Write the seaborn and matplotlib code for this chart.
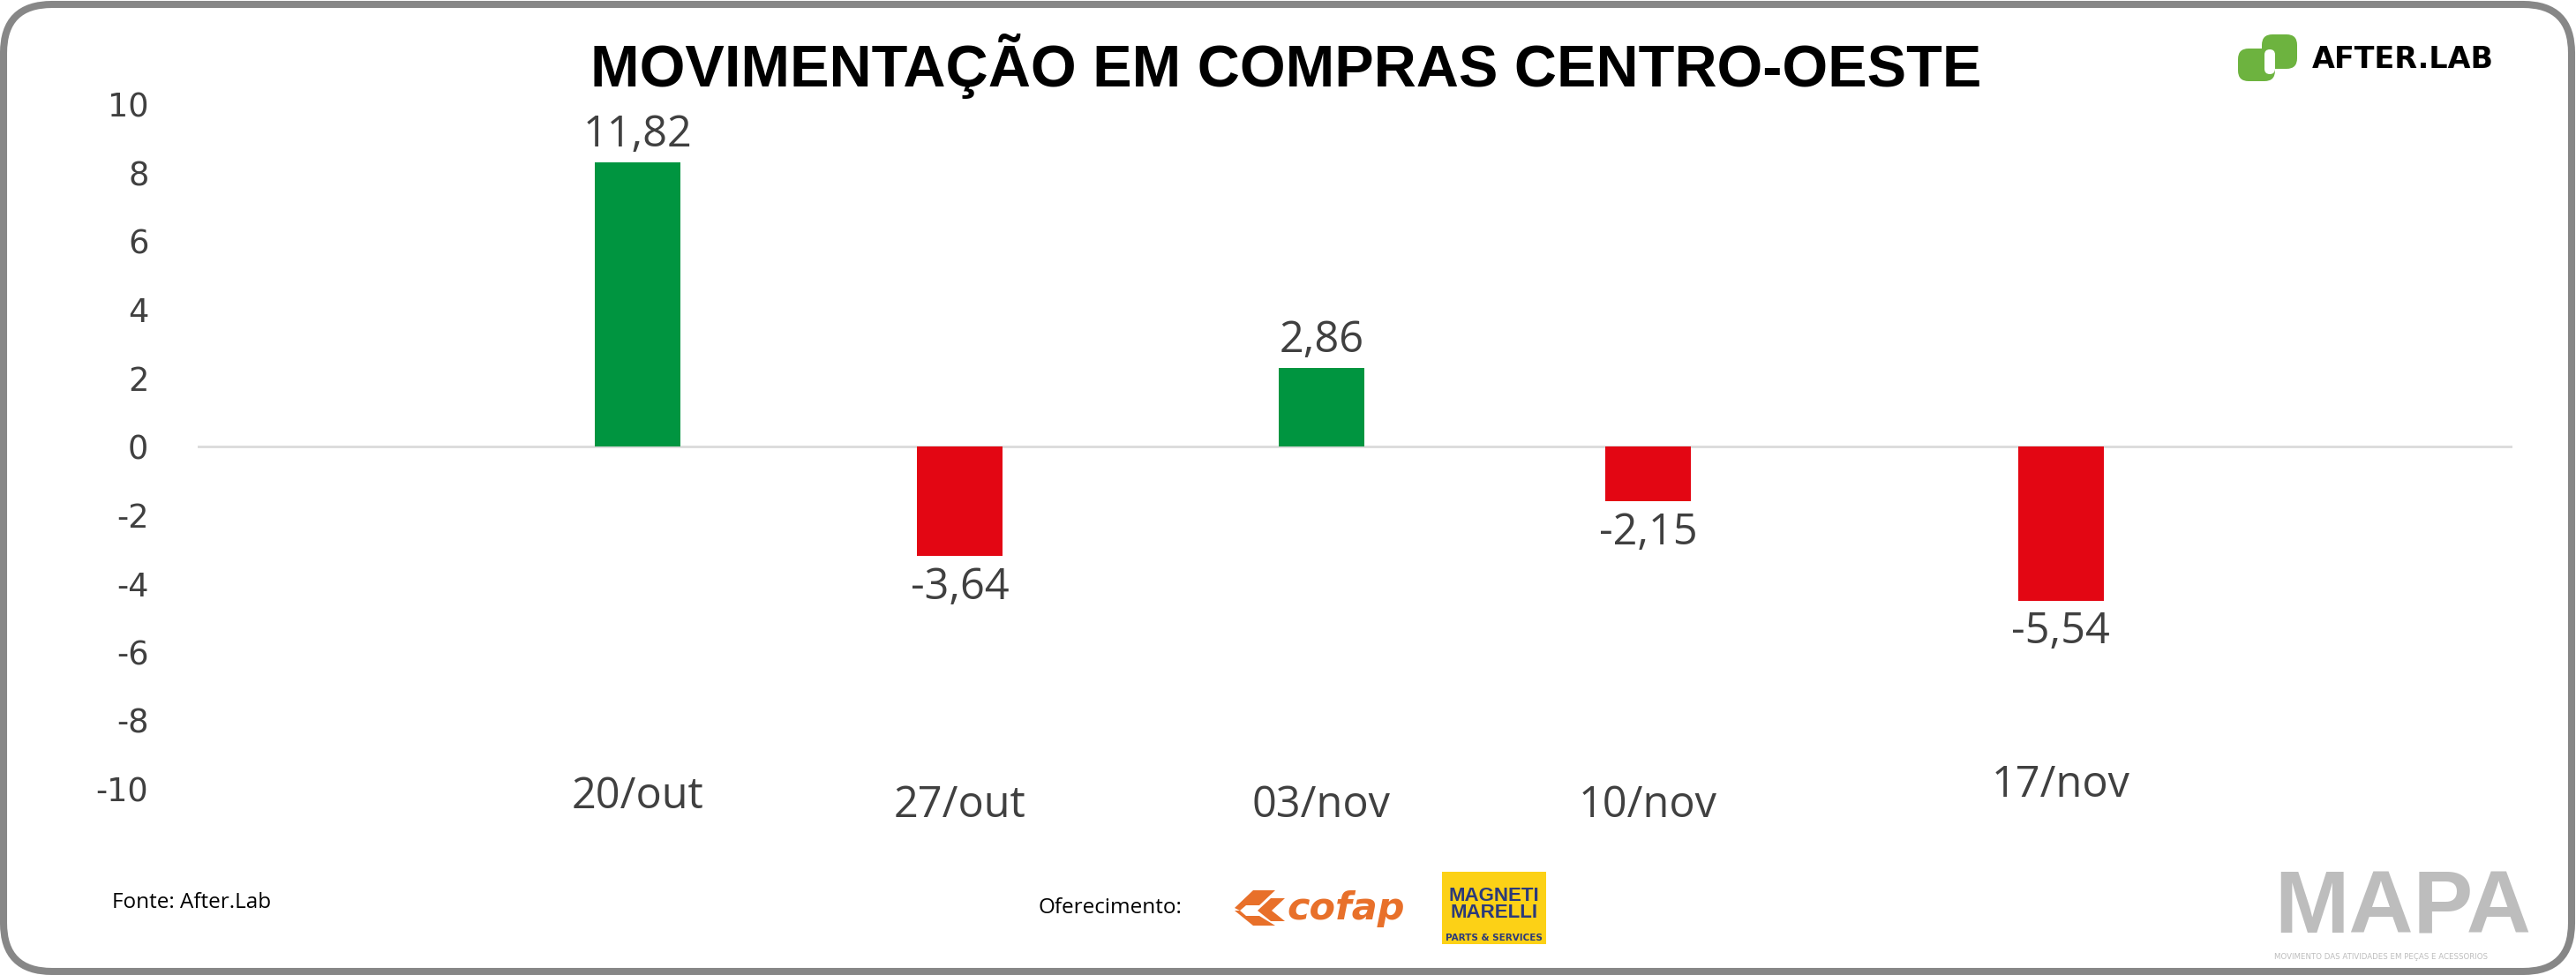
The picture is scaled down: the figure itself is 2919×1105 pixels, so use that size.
import numpy as np
import pandas as pd
import matplotlib
matplotlib.use("Agg")
import matplotlib.pyplot as plt
import seaborn as sns
from matplotlib import font_manager
from matplotlib.patches import FancyBboxPatch, Rectangle, Polygon
from matplotlib.transforms import IdentityTransform, ScaledTranslation

# ---------------- data ----------------
weeks = ["20/out", "27/out", "03/nov", "10/nov", "17/nov"]
bar_heights = [8.3, -3.2, 2.3, -1.6, -4.5]          # bar lengths as drawn in the picture
value_labels = [11.82, -3.64, 2.86, -2.15, -5.54]   # printed values
y_ticks = [10, 8, 6, 4, 2, 0, -2, -4, -6, -8, -10]
title = "MOVIMENTAÇÃO EM COMPRAS CENTRO-OESTE"

# ---------------- layout ----------------
bar_pos = [0.0, 1.0, 2.123, 3.137, 4.419]   # uneven spacing as in the reference
label_lift_px = [10, 0, 0, 0, 23]          # vertical lift of some x labels

GREEN = "#009540"
RED = "#E30613"
TXT = "#404040"
W, H, DPI = 2919, 1105, 100

names = {f.name for f in font_manager.fontManager.ttflist}
NARROW = "Liberation Sans Narrow" if "Liberation Sans Narrow" in names else "Liberation Sans"
BODY = "Open Sans" if "Open Sans" in names else "DejaVu Sans"

sns.set_style("white")
plt.rcParams["font.family"] = [BODY, "DejaVu Sans"]

fig = plt.figure(figsize=(W / DPI, H / DPI), dpi=DPI)
fig.patch.set_facecolor("white")
ax = fig.add_axes([224 / W, 0.19095, 2623 / W, 0.70929])

df = pd.DataFrame({
    "pos": bar_pos,
    "value": bar_heights,
    "dir": ["up" if v >= 0 else "down" for v in bar_heights],
})
sns.barplot(data=df, x="pos", y="value", hue="dir",
            palette={"up": GREEN, "down": RED}, native_scale=True,
            width=0.266, dodge=False, legend=False, errorbar=None,
            saturation=1, edgecolor="none", linewidth=0, ax=ax, zorder=2)

ax.axhline(0, color="#DADADA", lw=2.0, zorder=1)

for x, h, lab in zip(bar_pos, bar_heights, value_labels):
    txt = f"{lab:.2f}".replace(".", ",")
    if h >= 0:
        ax.annotate(txt, (x, h), xytext=(0, 4), textcoords="offset points",
                    ha="center", va="bottom", fontsize=35, color=TXT, family=BODY)
    else:
        ax.annotate(txt, (x, h), xytext=(0, -8), textcoords="offset points",
                    ha="center", va="top", fontsize=35, color=TXT, family=BODY)

ax.set_xlim(-1.366, 5.821)
ax.set_ylim(-10, 10.2)
ax.set_yticks(y_ticks)
ax.set_yticklabels([str(t) for t in y_ticks], family="DejaVu Sans")
ax.set_xticks(bar_pos)
ax.set_xticklabels(weeks, family=BODY)
ax.tick_params(axis="y", length=0, pad=40, labelsize=26.5, labelcolor=TXT)
ax.tick_params(axis="x", length=0, pad=-4, labelsize=35, labelcolor=TXT)
ax.set_xlabel("")
ax.set_ylabel("")
for s in ax.spines.values():
    s.set_visible(False)
ax.grid(False)

for lab, lift in zip(ax.get_xticklabels(), label_lift_px):
    if lift:
        lab.set_transform(lab.get_transform() +
                          ScaledTranslation(0, lift / DPI, fig.dpi_scale_trans))

# ---------------- title & footer ----------------
fig.text(1457 / W, 1 - 98 / H, title, ha="center", va="baseline",
         fontsize=48, fontweight="bold", family="Liberation Sans", color="black")
fig.text(127 / W, 1 - 1029 / H, "Fonte: After.Lab", ha="left", va="baseline",
         fontsize=17.5, color="black", family=BODY)
fig.text(1177 / W, 1 - 1035 / H, "Oferecimento:", ha="left", va="baseline",
         fontsize=17.5, color="black", family=BODY)

ID = IdentityTransform()
def py(y):  # image y (top-down) -> display y
    return H - y

# border
fig.add_artist(FancyBboxPatch((4, 4), W - 9, H - 9,
                              boxstyle="round,pad=0,rounding_size=55",
                              transform=ID, fill=False, edgecolor="#878787",
                              linewidth=5.8, zorder=0))

# After.Lab logo
AL_GREEN = "#6DB33F"
fig.add_artist(FancyBboxPatch((2536, py(92)), 42, 37, boxstyle="round,pad=0,rounding_size=12",
                              transform=ID, facecolor=AL_GREEN, edgecolor="none"))
fig.add_artist(FancyBboxPatch((2563, py(78)), 40, 39, boxstyle="round,pad=0,rounding_size=12",
                              transform=ID, facecolor=AL_GREEN, edgecolor="none"))
fig.add_artist(FancyBboxPatch((2566, py(84)), 12, 28, boxstyle="round,pad=0,rounding_size=6",
                              transform=ID, facecolor="white", edgecolor="none"))
fig.text(2620 / W, 1 - 77 / H, "AFTER.LAB", ha="left", va="baseline",
         fontsize=24, fontweight="bold", family="DejaVu Sans", color="black")

# cofap logo
ORANGE = "#E8702A"
fig.add_artist(Polygon([(1399, py(1029)), (1420, py(1009)), (1445, py(1009)), (1427, py(1026)),
                        (1412, py(1026)), (1405, py(1032))], closed=True, transform=ID,
                       facecolor=ORANGE, edgecolor="none"))
fig.add_artist(Polygon([(1405, py(1032)), (1412, py(1038)), (1427, py(1038)), (1445, py(1049)),
                        (1420, py(1049)), (1399, py(1032))], closed=True, transform=ID,
                       facecolor=ORANGE, edgecolor="none"))
fig.add_artist(Polygon([(1425, py(1032)), (1440, py(1018)), (1456, py(1018)), (1441, py(1032)),
                        (1456, py(1044)), (1440, py(1044))], closed=True, transform=ID,
                       facecolor=ORANGE, edgecolor="none"))
fig.text(1458 / W, 1 - 1042 / H, "cofap", ha="left", va="baseline", fontsize=31,
         fontweight="bold", fontstyle="italic", family="DejaVu Sans", color=ORANGE)

# Magneti Marelli logo
fig.add_artist(Rectangle((1634, py(1070)), 118, 82, transform=ID,
                         facecolor="#FCD116", edgecolor="none"))
MM_BLUE = "#2B3A7A"
fig.text(1693 / W, 1 - 1021 / H, "MAGNETI", ha="center", va="baseline", fontsize=16,
         fontweight="bold", family=NARROW, color=MM_BLUE)
fig.text(1693 / W, 1 - 1040 / H, "MARELLI", ha="center", va="baseline", fontsize=16,
         fontweight="bold", family=NARROW, color=MM_BLUE)
fig.text(1693 / W, 1 - 1066 / H, "PARTS & SERVICES", ha="center", va="baseline", fontsize=7.5,
         fontweight="bold", family="DejaVu Sans", color=MM_BLUE)

# MAPA logo
fig.text(2577 / W, 1 - 1058 / H, "MAPA", ha="left", va="baseline", fontsize=73,
         fontweight="bold", family=NARROW, color="#BDBDBD")
fig.text(2577 / W, 1 - 1087 / H, "MOVIMENTO DAS ATIVIDADES EM PEÇAS E ACESSORIOS",
         ha="left", va="baseline", fontsize=6.2, family="DejaVu Sans", color="#BDBDBD")

fig.savefig("out.png", dpi=DPI, facecolor="white")
